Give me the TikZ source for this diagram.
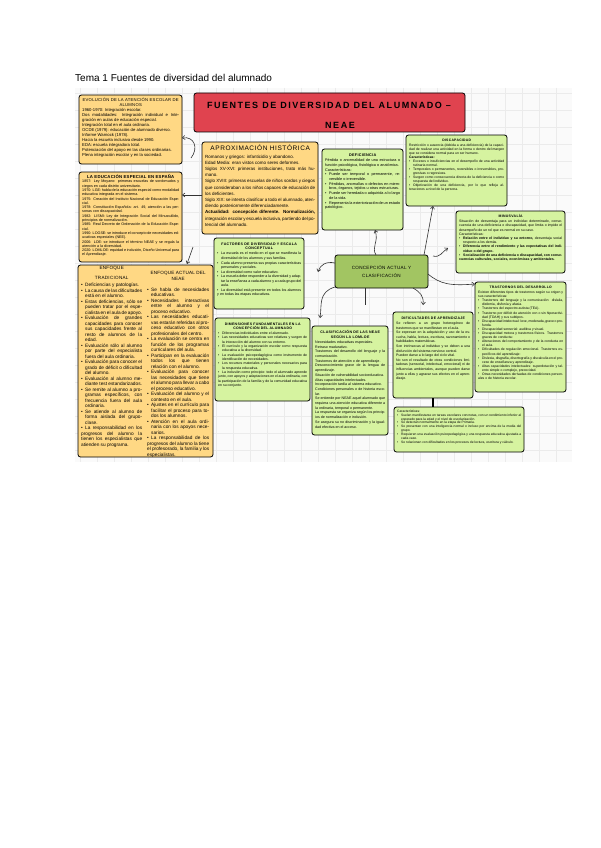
\documentclass[tikz,border=0pt]{standalone}
\usepackage{fontspec}
\setmainfont{Liberation Sans}
\usetikzlibrary{arrows.meta}
\definecolor{ylw}{HTML}{FFD884}
\definecolor{grn}{HTML}{D6F3A0}
\definecolor{dgrn}{HTML}{A2C562}
\definecolor{rd}{HTML}{E0434F}
\newcommand\bul{\par\hangindent=4pt\hangafter=1\noindent\makebox[4pt][l]{\textbullet}}
\newcommand\hd[1]{\par{\centering\addfontfeature{LetterSpace=8}\bfseries #1\par}\vspace{0.6pt}}
\newcommand\mapbox[8]{%
  \node[#2,anchor=north west,minimum width=#5pt,minimum height=#6pt] (#1) at (#3,#4) {};
  \pgfmathsetmacro\mbw{#5-6}%
  \node[boxtext,anchor=north west,text width=\mbw pt,font=\fontsize#7\selectfont] (#1t) at ([xshift=3pt,yshift=-2.5pt]#1.north west) {#8};}
\tikzset{
  anybox/.style={draw=black,line width=0.8pt,rounded corners=2.5pt,inner sep=0pt,outer sep=0pt},
  ybox/.style={anybox,fill=ylw},
  gbox/.style={anybox,fill=grn},
  boxtext/.style={inner sep=0pt,align=justify},
  conn/.style={draw=black!80,line width=0.6pt,-{Straight Barb[length=2.5pt,width=4pt]}},
  plainconn/.style={draw=black!80,line width=0.6pt}
}
\begin{document}
\begin{tikzpicture}[x=1pt,y=-1pt]
\useasboundingbox (0,0) rectangle (600,848);
\fill[white] (0,0) rectangle (600,848);
% page title
\node[anchor=west,inner sep=0pt,font=\fontsize{10}{12}\selectfont] (title) at (75,78) {Tema 1 Fuentes de diversidad del alumnado};
% map background with grid
\fill[black!2] (75,88) rectangle (572,462);
\foreach \gx in {80,97,...,572} {\draw[black!8,line width=0.3pt] (\gx,88) -- (\gx,462);}
\foreach \gy in {93,110,...,462} {\draw[black!8,line width=0.3pt] (75,\gy) -- (572,\gy);}

% red title
\node[anybox,fill=rd,anchor=north west,minimum width=271pt,minimum height=39pt] (main) at (194,93) {};
\node[inner sep=0pt,font=\fontsize{9}{10}\selectfont\bfseries\addfontfeature{LetterSpace=17}] (maint) at (329,105) {FUENTES DE DIVERSIDAD DEL ALUMNADO –};
\node[inner sep=0pt,font=\fontsize{9}{10}\selectfont\bfseries\addfontfeature{LetterSpace=17}] (maint2) at (340,125) {NEAE};

% box 1
\mapbox{evol}{ybox}{79}{95}{103}{69}{{4.2}{5.0}}{%
{\centering\addfontfeature{LetterSpace=6}EVOLUCIÓN DE LA ATENCIÓN ESCOLAR DE\\ALUMNOS\par}
1960-1970: Integración escolar.\par
Dos modalidades: Integración individual e Integración en aulas de educación especial.\par
Integración total en el aula ordinaria.\par
OCDE (1979): educación de alumnado diverso.\par
Informe Warnock (1978).\par
Hacia la escuela inclusiva desde 1990.\par
EDA: escuela integradora total.\par
Potenciación del apoyo en las clases ordinarias.\par
Plena integración escolar y en la sociedad.}

% box 2
\mapbox{espana}{ybox}{79}{172}{103}{90}{{3.7}{4.3}}{%
{\centering\fontsize{4.3}{5.4}\selectfont\bfseries\addfontfeature{LetterSpace=5}LA EDUCACIÓN ESPECIAL EN ESPAÑA\par}
1857: Ley Moyano: primeras escuelas de sordomudos y ciegos en cada distrito universitario.\par
1970: LGE: habla de la educación especial como modalidad educativa integrada en el sistema.\par
1975: Creación del Instituto Nacional de Educación Especial.\par
1978: Constitución Española: art. 49, atención a las personas con discapacidad.\par
1982: LISMI: Ley de Integración Social del Minusválido, principios de normalización.\par
1985: Real Decreto de Ordenación de la Educación Especial.\par
1990: LOGSE: se introduce el concepto de necesidades educativas especiales (NEE).\par
2006: LOE: se introduce el término NEAE y se regula la atención a la diversidad.\par
2020: LOMLOE: equidad e inclusión, Diseño Universal para el Aprendizaje.}

% aproximacion historica
\mapbox{aprox}{ybox}{202}{142}{116}{92}{{4.5}{6.2}}{%
{\centering\fontsize{6.5}{9}\selectfont\addfontfeature{LetterSpace=9}APROXIMACIÓN HISTÓRICA\par}
\vspace{1.5pt}
Romanos y griegos: infanticidio y abandono.\par
Edad Media: eran vistos como seres deformes.\par
Siglos XV-XVI: primeras instituciones, trato más humano.\par
Siglo XVIII: primeras escuelas de niños sordos y ciegos que consideraban a los niños capaces de educación de los deficientes.\par
Siglo XIX: se intenta clasificar a todo el alumnado, atendiendo posteriormente diferenciadamente.\par
{\bfseries Actualidad: concepción diferente. Normalización,} integración escolar y escuela inclusiva, partiendo del potencial del alumnado.}

% deficiencia
\mapbox{defic}{gbox}{322}{149}{81}{81}{{3.8}{4.7}}{%
\hd{DEFICIENCIA}
Pérdida o anormalidad de una estructura o función psicológica, fisiológica o anatómica.\par
Características:
\bul Puede ser temporal o permanente, reversible o irreversible.
\bul Pérdidas, anomalías o defectos en miembros, órganos, tejidos u otras estructuras.
\bul Puede ser heredada o adquirida a lo largo de la vida.
\bul Representa la exteriorización de un estado patológico.}

% discapacidad
\mapbox{discap}{gbox}{406}{135}{101}{71}{{3.4}{4.0}}{%
\hd{DISCAPACIDAD}
Restricción o ausencia (debida a una deficiencia) de la capacidad de realizar una actividad en la forma o dentro del margen que se considera normal para un ser humano.\par
{\bfseries Características:}
\bul Excesos o insuficiencias en el desempeño de una actividad rutinaria normal.
\bul Temporales o permanentes, reversibles o irreversibles, progresivas o regresivas.
\bul Surgen como consecuencia directa de la deficiencia o como respuesta del individuo.
\bul Objetivación de una deficiencia, por lo que refleja alteraciones a nivel de la persona.}

% minusvalia
\mapbox{minus}{gbox}{456}{211}{109}{62}{{3.5}{4.2}}{%
\hd{MINUSVALÍA}
Situación de desventaja para un individuo determinado, consecuencia de una deficiencia o discapacidad, que limita o impide el desempeño de un rol que es normal en su caso.\par
Características:
\bul {\bfseries Relación entre el individuo y su entorno,} desventaja social respecto a los demás.
\bul {\bfseries Diferencia entre el rendimiento y las expectativas del individuo o del grupo.}
\bul {\bfseries Socialización de una deficiencia o discapacidad, con consecuencias culturales, sociales, económicas y ambientales.}}

% trastornos
\mapbox{trast}{gbox}{475}{282}{91}{110}{{3.4}{4.1}}{%
\hd{TRASTORNOS DEL DESARROLLO}
Existen diferentes tipos de trastornos según su origen y sus características:
\bul Trastornos del lenguaje y la comunicación: dislalia, disfemia, disfonía y afasia.
\bul Trastornos del espectro autista (TEA).
\bul Trastorno por déficit de atención con o sin hiperactividad (TDAH) y sus subtipos.
\bul Discapacidad intelectual: leve, moderada, grave o profunda.
\bul Discapacidad sensorial: auditiva y visual.
\bul Discapacidad motora y trastornos físicos.
Trastornos graves de conducta:
\bul Alteraciones del comportamiento y de la conducta en el aula.
\bul Dificultades de regulación emocional.
Trastornos específicos del aprendizaje:
\bul Dislexia, disgrafía, disortografía y discalculia en el proceso de enseñanza y aprendizaje.
\bul Altas capacidades intelectuales: superdotación y talento simple o complejo, precocidad.
\bul Otras necesidades derivadas de condiciones personales o de historia escolar.}

% concepcion actual
\node[anybox,fill=dgrn,anchor=north west,minimum width=93pt,minimum height=33pt] (conc) at (335,255) {};
\node[inner sep=0pt,align=center,font=\fontsize{4.6}{8}\selectfont\addfontfeature{LetterSpace=6}] (conct) at (conc.center) {CONCEPCIÓN ACTUAL Y\\CLASIFICACIÓN};

% factores
\mapbox{fact}{gbox}{214}{238}{90}{71}{{3.6}{4.55}}{%
\hd{FACTORES DE DIVERSIDAD Y ESCALA\\CONCEPTUAL}
\bul La escuela es el medio en el que se manifiesta la diversidad de los alumnos y sus familias.
\bul Cada alumno presenta sus propias características personales y sociales.
\bul La diversidad como valor educativo.
\bul La escuela debe responder a la diversidad y adaptar la enseñanza a cada alumno y a cada grupo del aula.
\bul La diversidad está presente en todos los alumnos y en todas las etapas educativas.}

% dimensiones
\mapbox{dimen}{gbox}{215}{318}{95}{83}{{3.5}{4.35}}{%
\hd{DIMENSIONES FUNDAMENTALES EN LA\\CONCEPCIÓN DEL ALUMNADO}
\bul Diferencias individuales entre el alumnado.
\bul Las necesidades educativas son relativas y surgen de la interacción del alumno con su entorno.
\bul El currículo y la organización escolar como respuesta educativa a la diversidad.
\bul La evaluación psicopedagógica como instrumento de identificación de necesidades.
\bul Los recursos materiales y personales necesarios para la respuesta educativa.
\bul La inclusión como principio: todo el alumnado aprende junto, con apoyos y adaptaciones en el aula ordinaria, con la participación de la familia y de la comunidad educativa en su conjunto.}

% clasificacion
\mapbox{clasif}{gbox}{312}{326}{76}{109}{{3.6}{4.7}}{%
\hd{CLASIFICACIÓN DE LAS NEAE\\SEGÚN LA LOMLOE}
Necesidades educativas especiales.\par
Retraso madurativo.\par
Trastornos del desarrollo del lenguaje y la comunicación.\par
Trastornos de atención o de aprendizaje.\par
Desconocimiento grave de la lengua de aprendizaje.\par
Situación de vulnerabilidad socioeducativa.\par
Altas capacidades intelectuales.\par
Incorporación tardía al sistema educativo.\par
Condiciones personales o de historia escolar.\par
Se entiende por NEAE aquel alumnado que requiera una atención educativa diferente a la ordinaria, temporal o permanente.\par
La respuesta se organiza según los principios de normalización e inclusión.\par
Se asegura su no discriminación y la igualdad efectiva en el acceso.}

% dificultades
\mapbox{dific}{gbox}{393}{312}{80}{86}{{3.5}{4.6}}{%
\hd{DIFICULTADES DE APRENDIZAJE}
Se refieren a un grupo heterogéneo de trastornos que se manifiestan en el aula.\par
Se expresan en la adquisición y uso de la escucha, habla, lectura, escritura, razonamiento o habilidades matemáticas.\par
Son intrínsecas al individuo y se deben a una disfunción del sistema nervioso central.\par
Pueden darse a lo largo del ciclo vital.\par
No son el resultado de otras condiciones limitadoras (sensorial, intelectual, emocional) ni de influencias ambientales, aunque pueden darse junto a ellas y agravar sus efectos en el aprendizaje.}

% bottom box
\mapbox{bott}{gbox}{394}{407}{130}{45}{{3.3}{3.95}}{%
Características:
\bul Suelen manifestarse en tareas escolares concretas, con un rendimiento inferior al esperado para la edad y el nivel de escolarización.
\bul Se detectan normalmente en la etapa de Primaria.
\bul Se presentan con una inteligencia normal o incluso por encima de la media del grupo.
\bul Requieren una evaluación psicopedagógica y una respuesta educativa ajustada a cada caso.
\bul Se relacionan con dificultades en los procesos de lectura, escritura y cálculo.}

% big yellow box
\node[ybox,anchor=north west,minimum width=135pt,minimum height=192pt] (enf) at (78,265) {};
\node[boxtext,anchor=north west,text width=61pt,font=\fontsize{4.75}{5.5}\selectfont] (enfl) at (81,266.5) {%
{\centering\fontsize{4.6}{9.5}\selectfont\addfontfeature{LetterSpace=6}ENFOQUE\\TRADICIONAL\par}
\vspace{2pt}
\bul Deficiencias y patologías.
\bul La causa de las dificultades está en el alumno.
\bul Estas deficiencias, sólo se pueden tratar por el especialista en el aula de apoyo.
\bul Evaluación de grandes capacidades para conocer sus capacidades frente al resto de alumnos de la edad.
\bul Evaluación sólo al alumno por parte del especialista fuera del aula ordinaria.
\bul Evaluación para conocer el grado de déficit o dificultad del alumno.
\bul Evaluación al alumno mediante test estandarizados.
\bul Se remite al alumno a programas específicos, con frecuencia fuera del aula ordinaria.
\bul Se atiende al alumno de forma aislada del grupo-clase.
\bul La responsabilidad en los progresos del alumno la tienen los especialistas que atienden su programa.};
\node[boxtext,anchor=north west,text width=62pt,font=\fontsize{4.75}{5.5}\selectfont] (enfr) at (147,271.5) {%
{\centering\fontsize{4.6}{6}\selectfont\addfontfeature{LetterSpace=4}ENFOQUE ACTUAL DEL NEAE\par}
\vspace{5pt}
\bul Se habla de necesidades educativas.
\bul Necesidades interactivas entre el alumno y el proceso educativo.
\bul Las necesidades educativas estarán referidas al proceso educativo con otros profesionales del centro.
\bul La evaluación se centra en función de los programas curriculares del aula.
\bul Participan en la evaluación todos los que tienen relación con el alumno.
\bul Evaluación para conocer las necesidades que tiene el alumno para llevar a cabo el proceso educativo.
\bul Evaluación del alumno y el contexto en el aula.
\bul Ajustes en el currículo para facilitar el proceso para todos los alumnos.
\bul Atención en el aula ordinaria con los apoyos necesarios.
\bul La responsabilidad de los progresos del alumno la tiene el profesorado, la familia y los especialistas.};

% connectors
\coordinate (c1) at (191,158);
\draw[conn] (c1) .. controls (199,148) and (194,136) .. (evol.east |- 0,138);
\draw[conn] (aprox.west |- 0,195) -- (espana.east |- 0,195);
\coordinate (c2) at (193,247);
\draw[conn] (c2) -- (187,264);
\draw[conn] (conc.north -| 376,0) .. controls (371,247) and (379,242) .. (defic.south -| 375,0);
\draw[conn] (conc.north -| 424,0) -- (discap.south -| 433,0);
\coordinate (c3) at (448,248);
\draw[conn] (433,256) .. controls (440,258) and (442,252) .. (c3);
\draw[conn] (conc.east |- 0,274) .. controls (440,284) and (450,286) .. (trast.west |- 0,284);
\coordinate (c4) at (423,305);
\draw[conn] (conc.south -| 413,0) .. controls (420,292) and (424,296) .. (c4);
\coordinate (c5) at (318,272);
\draw[conn] (conc.west |- 0,263) .. controls (326,261) and (320,265) .. (c5);
\coordinate (c6) at (320,318);
\draw[conn] (conc.west |- 0,287) .. controls (318,292) and (322,305) .. (c6);
\draw[plainconn] (conc.south -| 365,0) -- (365,305);
\draw[black,line width=1.5pt] (dific.south -| 433,0) -- (bott.north -| 433,0);
\end{tikzpicture}
\end{document}
